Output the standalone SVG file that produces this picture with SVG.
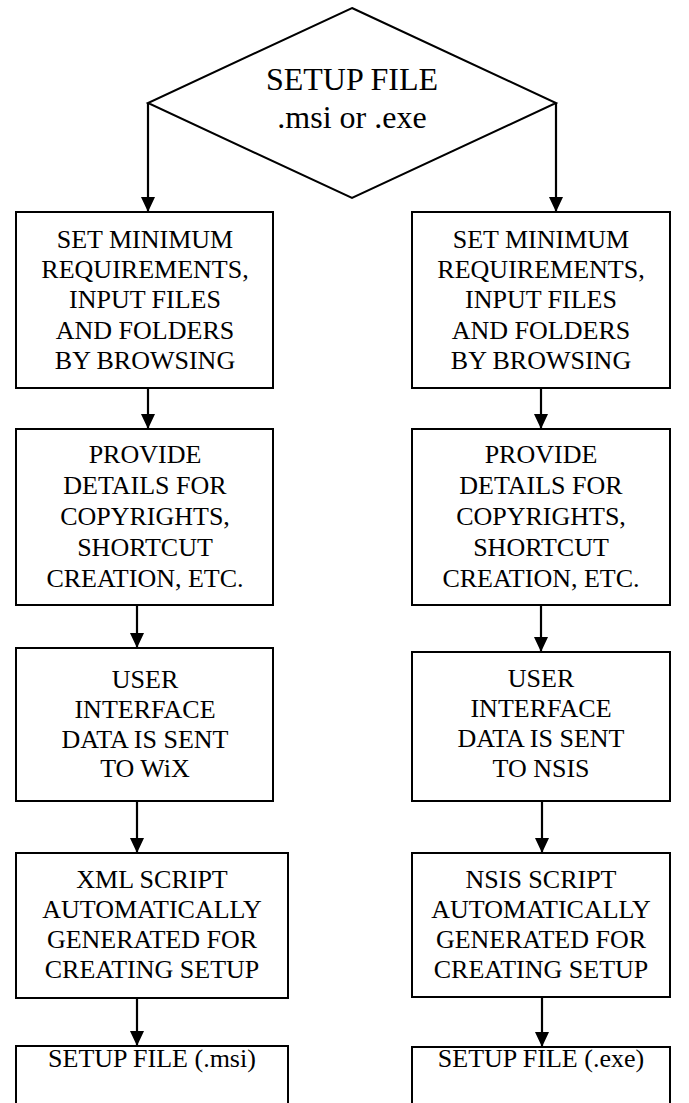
<svg xmlns="http://www.w3.org/2000/svg" width="689" height="1103" viewBox="0 0 689 1103">
<style>
.box{fill:#fff;stroke:#000;stroke-width:2}
.t{font-family:"Liberation Serif","Times New Roman",serif;font-size:26px;fill:#000;text-anchor:middle}
.big{font-size:32px}
.c{stroke:#000;stroke-width:2.2;fill:none}
</style>
<defs>
<marker id="ah" markerUnits="userSpaceOnUse" markerWidth="15" markerHeight="14" refX="15" refY="7" orient="auto">
<path d="M0,0 L15,7 L0,14 z" fill="#000"/>
</marker>
</defs>
<rect width="689" height="1103" fill="#fff"/>
<g id="connectors">
<path class="c" d="M148,103 V212" marker-end="url(#ah)"/>
<path class="c" d="M556,103 V212" marker-end="url(#ah)"/>
<path class="c" d="M148,388 V429" marker-end="url(#ah)"/>
<path class="c" d="M541,388 V429" marker-end="url(#ah)"/>
<path class="c" d="M137,603 V648" marker-end="url(#ah)"/>
<path class="c" d="M541,603 V652" marker-end="url(#ah)"/>
<path class="c" d="M137,799 V853" marker-end="url(#ah)"/>
<path class="c" d="M542,799 V853" marker-end="url(#ah)"/>
<path class="c" d="M137,996 V1046" marker-end="url(#ah)"/>
<path class="c" d="M542,995 V1047" marker-end="url(#ah)"/>
</g>
<g id="start">
<polygon class="box" points="352,8 556,103 352,198 148,103"/>
<text class="t big" x="352" y="90">SETUP FILE</text>
<text class="t big" x="352" y="128">.msi or .exe</text>
</g>
<g id="l1">
<rect class="box" x="16" y="212" width="257" height="176"/>
<text class="t" x="145" y="248">SET MINIMUM</text>
<text class="t" x="145" y="278">REQUIREMENTS,</text>
<text class="t" x="145" y="308">INPUT FILES</text>
<text class="t" x="145" y="339">AND FOLDERS</text>
<text class="t" x="145" y="369">BY BROWSING</text>
</g>
<g id="r1">
<rect class="box" x="412" y="212" width="258" height="176"/>
<text class="t" x="541" y="248">SET MINIMUM</text>
<text class="t" x="541" y="278">REQUIREMENTS,</text>
<text class="t" x="541" y="308">INPUT FILES</text>
<text class="t" x="541" y="339">AND FOLDERS</text>
<text class="t" x="541" y="369">BY BROWSING</text>
</g>
<g id="l2">
<rect class="box" x="16" y="429" width="257" height="176"/>
<text class="t" x="145" y="463">PROVIDE</text>
<text class="t" x="145" y="494">DETAILS FOR</text>
<text class="t" x="145" y="525">COPYRIGHTS,</text>
<text class="t" x="145" y="556">SHORTCUT</text>
<text class="t" x="145" y="587">CREATION, ETC.</text>
</g>
<g id="r2">
<rect class="box" x="412" y="429" width="258" height="176"/>
<text class="t" x="541" y="463">PROVIDE</text>
<text class="t" x="541" y="494">DETAILS FOR</text>
<text class="t" x="541" y="525">COPYRIGHTS,</text>
<text class="t" x="541" y="556">SHORTCUT</text>
<text class="t" x="541" y="587">CREATION, ETC.</text>
</g>
<g id="l3">
<rect class="box" x="16" y="648" width="257" height="153"/>
<text class="t" x="145" y="688">USER</text>
<text class="t" x="145" y="718">INTERFACE</text>
<text class="t" x="145" y="748">DATA IS SENT</text>
<text class="t" x="145" y="777">TO WiX</text>
</g>
<g id="r3">
<rect class="box" x="412" y="652" width="258" height="149"/>
<text class="t" x="541" y="687">USER</text>
<text class="t" x="541" y="717">INTERFACE</text>
<text class="t" x="541" y="747">DATA IS SENT</text>
<text class="t" x="541" y="777">TO NSIS</text>
</g>
<g id="l4">
<rect class="box" x="16" y="853" width="272" height="145"/>
<text class="t" x="152" y="888">XML SCRIPT</text>
<text class="t" x="152" y="918">AUTOMATICALLY</text>
<text class="t" x="152" y="948">GENERATED FOR</text>
<text class="t" x="152" y="978">CREATING SETUP</text>
</g>
<g id="r4">
<rect class="box" x="412" y="853" width="258" height="144"/>
<text class="t" x="541" y="888">NSIS SCRIPT</text>
<text class="t" x="541" y="918">AUTOMATICALLY</text>
<text class="t" x="541" y="948">GENERATED FOR</text>
<text class="t" x="541" y="978">CREATING SETUP</text>
</g>
<g id="l5">
<rect class="box" x="16" y="1046" width="272" height="70"/>
<text class="t" x="152" y="1067">SETUP FILE (.msi)</text>
</g>
<g id="r5">
<rect class="box" x="412" y="1047" width="258" height="70"/>
<text class="t" x="541" y="1067">SETUP FILE (.exe)</text>
</g>
</svg>
